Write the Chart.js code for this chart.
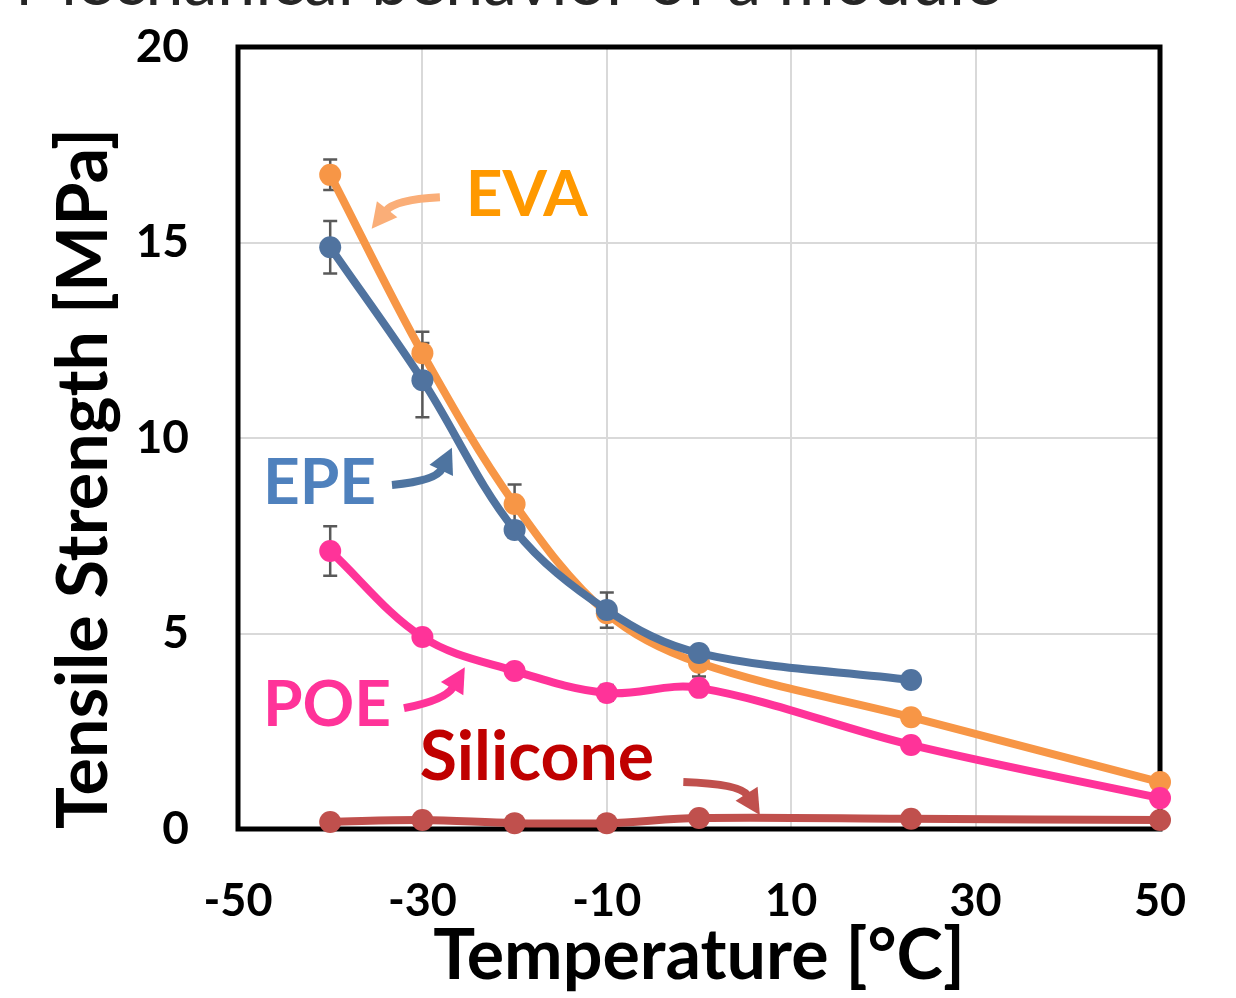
<!DOCTYPE html>
<html><head><meta charset="utf-8">
<script src="https://cdn.jsdelivr.net/npm/chart.js@4/dist/chart.umd.min.js"></script>
<style>html,body{margin:0;padding:0;background:#fff;overflow:hidden}#wrap{position:relative;width:1236px;height:998px}</style>
</head><body><div id="wrap"><canvas id="c" width="1236" height="998"></canvas></div>
<script>
// ---- data ----
const temperatures = [-40, -30, -20, -10, 0, 23, 50];
const epeTemperatures = [-40, -30, -20, -10, 0, 23];
const evaStrength = [16.73, 12.17, 8.31, 5.52, 4.25, 2.86, 1.20];
const evaError = [0.39, 0.55, 0.5, 0, 0.35, 0, 0];
const epeStrength = [14.88, 11.48, 7.65, 5.60, 4.50, 3.81];
const epeError = [0.67, 0.95, 0.2, 0.45, 0, 0];
const poeStrength = [7.11, 4.91, 4.04, 3.48, 3.61, 2.15, 0.79];
const poeError = [0.63, 0, 0, 0.2, 0.15, 0, 0];
const siliconeStrength = [0.18, 0.23, 0.15, 0.15, 0.28, 0.26, 0.23];
const siliconeError = [0, 0, 0, 0, 0, 0, 0];
const xTickValues = [-50, -30, -10, 10, 30, 50];
const yTickValues = [0, 5, 10, 15, 20];
const xTitle = 'Temperature [°C]';
const yTitle = 'Tensile Strength [MPa]';
const pageTitle = 'Mechanical behavior of a module';
// labels & arrows in data coordinates
const labelNames = ['EVA', 'EPE', 'POE', 'Silicone'];
const labelX = [-25.3, -47.3, -47.3, -30.3];
const labelY = [16.21, 8.85, 3.17, 1.82];
const labelSizes = [64, 64, 64, 68];
const labelColors = ['#FF9900', '#4F81BD', '#FF3399', '#C00000'];
const arrowStart = [[-28.1, 16.16], [-33.3, 8.8], [-32.0, 3.09], [-1.7, 1.2]];
const arrowCtrl = [[-33.0, 16.1], [-28.5, 8.9], [-27.5, 3.3], [4.5, 1.15]];
const arrowEnd = [[-35.5, 15.35], [-26.8, 9.75], [-25.4, 4.14], [6.6, 0.36]];
const arrowColors = ['#FAAE78', '#4E74A0', '#FF3399', '#C0504D'];

const FONT = 'Lato, "Open Sans", sans-serif';
function pts(xs, ys) { return xs.map((x, i) => ({ x: x, y: ys[i] })); }
function series(label, xs, ys, errs, color, order) {
  return { label, data: pts(xs, ys), errors: errs, borderColor: color, backgroundColor: color,
    pointBackgroundColor: color, pointBorderColor: color, borderWidth: 8, pointRadius: 11,
    pointHoverRadius: 11, pointBorderWidth: 0, tension: 0.35, clip: false, order };
}

const framePlugin = {
  id: 'frame',
  beforeDatasetsDraw(chart) {
    const { ctx, chartArea: a, scales } = chart;
    ctx.save();
    ctx.strokeStyle = '#000'; ctx.lineWidth = 5;
    ctx.strokeRect(a.left, a.top, a.right - a.left, a.bottom - a.top);
    ctx.strokeStyle = '#595959'; ctx.lineWidth = 2.5;
    chart.data.datasets.forEach(ds => {
      ds.data.forEach((p, i) => {
        const e = ds.errors[i]; if (!e) return;
        const x = scales.x.getPixelForValue(p.x);
        const y1 = scales.y.getPixelForValue(p.y + e), y2 = scales.y.getPixelForValue(p.y - e);
        ctx.beginPath();
        ctx.moveTo(x, y1); ctx.lineTo(x, y2);
        ctx.moveTo(x - 7, y1); ctx.lineTo(x + 7, y1);
        ctx.moveTo(x - 7, y2); ctx.lineTo(x + 7, y2);
        ctx.stroke();
      });
    });
    ctx.restore();
  },
  afterDatasetsDraw(chart) {
    const { ctx, scales } = chart;
    const X = v => scales.x.getPixelForValue(v), Y = v => scales.y.getPixelForValue(v);
    ctx.save();
    labelNames.forEach((t, i) => {
      ctx.font = 'bold ' + labelSizes[i] + 'px ' + FONT;
      ctx.fillStyle = labelColors[i];
      ctx.textBaseline = 'middle'; ctx.textAlign = 'left';
      ctx.fillText(t, X(labelX[i]), Y(labelY[i]));
      const sx = X(arrowStart[i][0]), sy = Y(arrowStart[i][1]);
      const cx = X(arrowCtrl[i][0]), cy = Y(arrowCtrl[i][1]);
      const ex = X(arrowEnd[i][0]), ey = Y(arrowEnd[i][1]);
      const ang = Math.atan2(ey - cy, ex - cx);
      const head = 25, hw = 13;
      const bx = ex - head * Math.cos(ang), by = ey - head * Math.sin(ang);
      ctx.strokeStyle = arrowColors[i]; ctx.fillStyle = arrowColors[i];
      ctx.lineWidth = 8; ctx.lineCap = 'butt';
      ctx.beginPath(); ctx.moveTo(sx, sy); ctx.quadraticCurveTo(cx, cy, bx + 2 * Math.cos(ang), by + 2 * Math.sin(ang)); ctx.stroke();
      ctx.beginPath();
      ctx.moveTo(ex, ey);
      ctx.lineTo(bx + hw * Math.sin(ang), by - hw * Math.cos(ang));
      ctx.lineTo(bx - hw * Math.sin(ang), by + hw * Math.cos(ang));
      ctx.closePath(); ctx.fill();
    });
    ctx.font = '68px ' + FONT;
    ctx.fillStyle = '#262626'; ctx.textBaseline = 'alphabetic'; ctx.textAlign = 'left';
    ctx.fillText(pageTitle, 15, 5);
    ctx.restore();
  }
};

new Chart(document.getElementById('c'), {
  type: 'line',
  data: { datasets: [
    series('Silicone', temperatures, siliconeStrength, siliconeError, '#C0504D', 1),
    series('POE', temperatures, poeStrength, poeError, '#FF3399', 2),
    series('EPE', epeTemperatures, epeStrength, epeError, '#50739F', 3),
    series('EVA', temperatures, evaStrength, evaError, '#F79646', 4)
  ] },
  options: {
    responsive: false, animation: false, devicePixelRatio: 1,
    layout: { padding: { left: 0, right: 76, top: 47, bottom: 0 } },
    plugins: { legend: { display: false }, tooltip: { enabled: false } },
    scales: {
      x: {
        type: 'linear', min: -50, max: 50,
        afterBuildTicks: s => { s.ticks = xTickValues.map(v => ({ value: v })); },
        afterFit: s => { s.height = 169; s.paddingLeft = 0; s.paddingRight = 0; },
        grid: { color: '#D9D9D9', lineWidth: 2, drawTicks: false },
        border: { display: false },
        ticks: { font: { family: FONT, size: 45, weight: 'bold' }, color: '#000', padding: 45, maxRotation: 0 },
        title: { display: true, text: xTitle, font: { family: FONT, size: 70, weight: 'bold' }, color: '#000', padding: { top: 0, bottom: 0 } }
      },
      y: {
        min: 0, max: 20,
        afterBuildTicks: s => { s.ticks = yTickValues.map(v => ({ value: v })); },
        afterFit: s => { s.width = 238; s.paddingTop = 0; s.paddingBottom = 0; },
        grid: { color: '#D9D9D9', lineWidth: 2, drawTicks: false },
        border: { display: false },
        ticks: { font: { family: FONT, size: 46, weight: 'bold' }, color: '#000', padding: 49 },
        title: { display: true, text: yTitle, align: 'start', font: { family: FONT, size: 70, weight: 'bold' }, color: '#000', padding: { top: 42, bottom: 0 } }
      }
    }
  },
  plugins: [framePlugin]
});
</script></body></html>
